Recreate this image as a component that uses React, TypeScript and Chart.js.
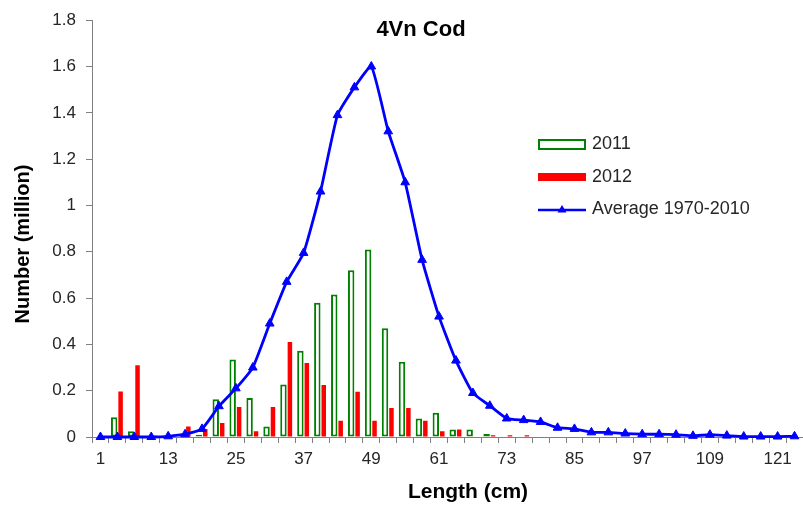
import React, { useEffect, useRef } from "react";
import { Chart, registerables } from "chart.js";

Chart.register(...registerables);

const lengths = [
  "1", "4", "7", "10", "13", "16", "19", "22", "25", "28", "31", "34", "37", "40",
  "43", "46", "49", "52", "55", "58", "61", "64", "67", "70", "73", "76", "79", "82",
  "85", "88", "91", "94", "97", "100", "103", "106", "109", "112", "115", "118", "121", "124",
];

const y2011 = [
  0, 0.085, 0.025, 0, 0, 0.012, 0.01, 0.163, 0.335, 0.168, 0.045, 0.227, 0.373, 0.58,
  0.615, 0.72, 0.81, 0.47, 0.325, 0.08, 0.105, 0.032, 0.032, 0.013, 0, 0, 0, 0,
  0, 0, 0, 0, 0, 0, 0, 0, 0, 0, 0, 0, 0, 0,
];

const y2012 = [
  0, 0.197, 0.31, 0.005, 0, 0.045, 0.035, 0.06, 0.13, 0.025, 0.13, 0.41, 0.32, 0.225,
  0.07, 0.195, 0.07, 0.125, 0.125, 0.07, 0.025, 0.032, 0, 0.008, 0.008, 0.008, 0, 0,
  0, 0, 0, 0, 0, 0, 0, 0, 0, 0, 0, 0, 0, 0,
];

const avg19702010 = [
  0, 0, 0, 0, 0.003, 0.012, 0.035, 0.133, 0.21, 0.3, 0.49, 0.67, 0.795, 1.06,
  1.39, 1.51, 1.6, 1.32, 1.1, 0.765, 0.52, 0.33, 0.19, 0.135, 0.08, 0.073, 0.065, 0.04,
  0.035, 0.02, 0.02, 0.015, 0.012, 0.012, 0.01, 0.005, 0.01, 0.006, 0.002, 0.002, 0.002, 0.003,
];

const chartTitle = "4Vn Cod";
const xTitle = "Length (cm)";
const yTitle = "Number (million)";
const seriesNames = ["2011", "2012", "Average 1970-2010"];

const FONT = "'Liberation Sans', Arial, sans-serif";
const TEXT = "#262626";
const AXIS = "#808080";
const GREEN = "#008000";
const RED = "#FF0000";
const BLUE = "#0000FF";

const decorPlugin = {
  id: "decor",
  afterDraw(chart: any) {
    const ctx = chart.ctx;
    const ca = chart.chartArea;
    ctx.save();
    // Title
    ctx.fillStyle = "#000";
    ctx.font = `bold 22px ${FONT}`;
    ctx.textAlign = "center";
    ctx.textBaseline = "middle";
    ctx.fillText(chartTitle, ca.left + 329, 30);
    // X title
    ctx.font = `bold 21px ${FONT}`;
    ctx.fillText(xTitle, ca.left + 376, 492);
    // Y title
    ctx.save();
    ctx.translate(23, 244);
    ctx.rotate(-Math.PI / 2);
    ctx.font = `bold 20px ${FONT}`;
    ctx.fillText(yTitle, 0, 0);
    ctx.restore();

    // Legend
    const lx = ca.left + 446;
    const tx = lx + 54;
    ctx.font = `18px ${FONT}`;
    ctx.textAlign = "left";
    // 2011
    ctx.fillStyle = "#fff";
    ctx.fillRect(lx, 139, 48, 11);
    ctx.strokeStyle = GREEN;
    ctx.lineWidth = 2;
    ctx.strokeRect(lx + 1, 140, 46, 9);
    ctx.fillStyle = TEXT;
    ctx.fillText(seriesNames[0], tx, 144);
    // 2012
    ctx.fillStyle = RED;
    ctx.fillRect(lx, 173, 48, 8);
    ctx.fillStyle = TEXT;
    ctx.fillText(seriesNames[1], tx, 177);
    // Average
    ctx.strokeStyle = BLUE;
    ctx.lineWidth = 2.5;
    ctx.beginPath();
    ctx.moveTo(lx, 210);
    ctx.lineTo(lx + 48, 210);
    ctx.stroke();
    ctx.fillStyle = BLUE;
    ctx.beginPath();
    ctx.moveTo(lx + 24, 205);
    ctx.lineTo(lx + 28.5, 212.5);
    ctx.lineTo(lx + 19.5, 212.5);
    ctx.closePath();
    ctx.fill();
    ctx.fillStyle = TEXT;
    ctx.fillText(seriesNames[2], tx, 209);
    ctx.restore();
  },
};

export default function App() {
  const canvasRef = useRef<HTMLCanvasElement | null>(null);

  useEffect(() => {
    if (!canvasRef.current) return;
    const chart = new Chart(canvasRef.current, {
      type: "bar",
      data: {
        labels: lengths,
        datasets: [
          {
            type: "line",
            label: seriesNames[2],
            data: avg19702010,
            borderColor: BLUE,
            backgroundColor: BLUE,
            borderWidth: 2.8,
            pointStyle: "triangle",
            pointRadius: 5,
            pointBackgroundColor: BLUE,
            pointBorderColor: BLUE,
            pointBorderWidth: 1,
            tension: 0.15,
            clip: 8,
            order: 0,
          } as any,
          {
            type: "bar",
            label: seriesNames[0],
            data: y2011,
            backgroundColor: "#ffffff",
            borderColor: GREEN,
            borderWidth: 2,
            borderSkipped: false,
            categoryPercentage: 0.76,
            barPercentage: 1,
            order: 1,
          } as any,
          {
            type: "bar",
            label: seriesNames[1],
            data: y2012,
            backgroundColor: RED,
            borderWidth: 0,
            categoryPercentage: 0.76,
            barPercentage: 0.7,
            order: 1,
          } as any,
        ],
      },
      options: {
        animation: false,
        responsive: true,
        maintainAspectRatio: false,
        layout: { autoPadding: false, padding: { top: 17, right: 0, left: 0, bottom: 0 } },
        plugins: {
          legend: { display: false },
          title: { display: false },
          tooltip: { enabled: false },
        },
        scales: {
          x: {
            type: "category",
            offset: true,
            grid: {
              offset: true,
              drawOnChartArea: false,
              drawTicks: true,
              tickLength: 6,
              color: AXIS,
            },
            border: { color: AXIS, width: 1 },
            ticks: {
              autoSkip: false,
              maxRotation: 0,
              minRotation: 0,
              padding: 6,
              color: TEXT,
              font: { family: FONT, size: 17 },
              callback: (_v: any, i: number) => (i % 4 === 0 ? lengths[i] : ""),
            },
            afterFit: (s: any) => {
              s.height = 71;
            },
          },
          y: {
            min: 0,
            max: 1.8,
            grid: {
              drawOnChartArea: false,
              drawTicks: true,
              tickLength: 6,
              color: AXIS,
            },
            border: { color: AXIS, width: 1 },
            ticks: {
              stepSize: 0.2,
              padding: 10,
              color: TEXT,
              font: { family: FONT, size: 17 },
              callback: (v: any) => String(Math.round(Number(v) * 10) / 10),
            },
            afterFit: (s: any) => {
              s.width = 92;
            },
          },
        },
      },
      plugins: [decorPlugin],
    });
    return () => chart.destroy();
  }, []);

  return (
    <div style={{ position: "fixed", left: 0, top: 0, width: 803, height: 508, background: "#fff" }}>
      <canvas ref={canvasRef} />
    </div>
  );
}
